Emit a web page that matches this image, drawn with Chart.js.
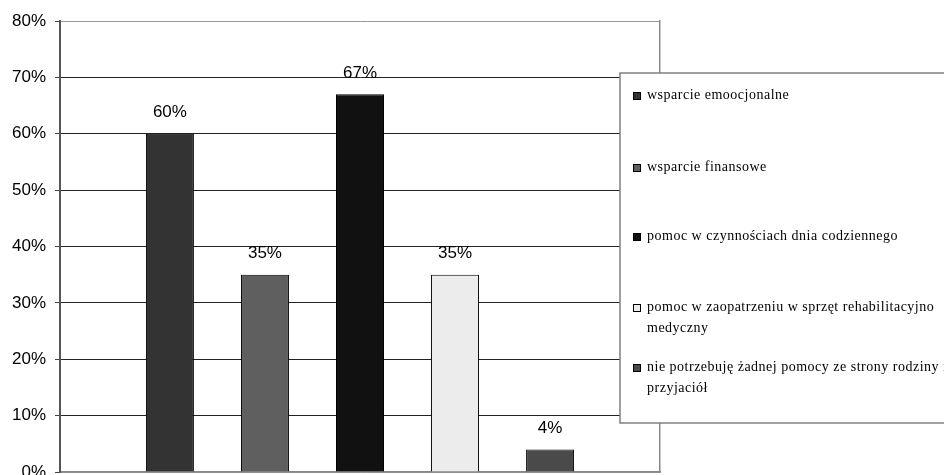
<!DOCTYPE html>
<html lang="pl">
<head>
  <meta charset="utf-8">
  <title>Potrzebna pomoc</title>
  <script type="text/javascript" src="https://cdn.jsdelivr.net/npm/chart.js"></script>
  <style>
    html, body { margin: 0; padding: 0; background: #fff; }
    #wrap { width: 944px; height: 475px; }
  </style>
</head>
<body>
<div id="wrap"><canvas id="c" width="944" height="475"></canvas></div>

<script>
  // data
  const categories = [''];
  const seriesNames = [
    'wsparcie emoocjonalne',
    'wsparcie finansowe',
    'pomoc w czynnościach dnia codziennego',
    'pomoc w zaopatrzeniu w sprzęt rehabilitacyjno medyczny',
    'nie potrzebuję żadnej pomocy ze strony rodziny i przyjaciół'
  ];
  const seriesValues = [60, 35, 67, 35, 4];
  const yTicks = [0, 10, 20, 30, 40, 50, 60, 70, 80];

  const barColors = ['#333333', '#5f5f5f', '#111111', '#ececec', '#4a4a4a'];

  // value labels above the bars
  const valueLabels = {
    id: 'valueLabels',
    afterDatasetsDraw(chart) {
      const ctx = chart.ctx;
      ctx.save();
      ctx.font = '17px "Liberation Sans", Arial, sans-serif';
      ctx.fillStyle = '#000';
      ctx.textAlign = 'center';
      ctx.textBaseline = 'middle';
      chart.data.datasets.forEach((ds, i) => {
        chart.getDatasetMeta(i).data.forEach((bar, j) => {
          ctx.fillText(ds.data[j] + '%', bar.x, bar.y - 21);
        });
      });
      ctx.restore();
    }
  };

  // legend box that sits over the right part of the plot, like the original
  const boxLegend = {
    id: 'boxLegend',
    afterDraw(chart) {
      const ctx = chart.ctx;
      const left = 620, top = 73, bottom = 423;
      const firstLines = [22, 94, 163, 234, 294];
      ctx.save();
      ctx.fillStyle = '#fff';
      ctx.strokeStyle = '#808080';
      ctx.lineWidth = 1.5;
      ctx.fillRect(left, top, chart.width - left + 10, bottom - top);
      ctx.strokeRect(left, top, chart.width - left + 10, bottom - top);

      ctx.font = '14px "Liberation Serif", "Times New Roman", serif';
      ctx.letterSpacing = '0.5px';
      ctx.textBaseline = 'middle';
      const maxW = 320;
      chart.data.datasets.forEach((ds, i) => {
        const y0 = top + firstLines[i];
        ctx.fillStyle = ds.backgroundColor;
        ctx.fillRect(633, y0 - 3, 8, 8);
        ctx.strokeStyle = '#000';
        ctx.lineWidth = 1;
        ctx.strokeRect(633.5, y0 - 2.5, 7, 7);
        // simple word wrap (the box runs past the canvas edge, as in the original)
        const words = ds.label.split(' ');
        const lines = [];
        let cur = '';
        words.forEach(w => {
          const t = cur ? cur + ' ' + w : w;
          if (ctx.measureText(t).width > maxW && cur) { lines.push(cur); cur = w; }
          else cur = t;
        });
        lines.push(cur);
        ctx.fillStyle = '#000';
        lines.forEach((ln, k) => ctx.fillText(ln, 647, y0 + k * 21));
      });
      ctx.restore();
    }
  };

  new Chart(document.getElementById('c').getContext('2d'), {
    type: 'bar',
    data: {
      labels: categories,
      datasets: seriesNames.map((name, i) => ({
        label: name,
        data: [seriesValues[i]],
        backgroundColor: barColors[i],
        borderColor: '#000',
        borderWidth: 1,
        categoryPercentage: 0.792,
        barPercentage: 0.505
      }))
    },
    options: {
      responsive: false,
      animation: false,
      layout: { padding: { top: 21, right: 284, bottom: 3, left: 0 } },
      plugins: {
        legend: { display: false },
        tooltip: { enabled: false }
      },
      scales: {
        x: {
          afterFit(scale) { scale.height = 0; },
          ticks: { display: false },
          grid: { display: false, drawTicks: false },
          border: { color: '#888', width: 1.5 }
        },
        y: {
          min: 0,
          max: 80,
          afterBuildTicks(scale) { scale.ticks = yTicks.map(v => ({ value: v })); },
          afterFit(scale) {
            scale.width = 60;
            scale.paddingTop = 0;
            scale.paddingBottom = 0;
          },
          ticks: {
            callback: v => v + '%',
            color: '#000',
            padding: 9,
            font: { family: '"Liberation Sans", Arial, sans-serif', size: 17 }
          },
          grid: {
            color: ctx => (ctx.tick && (ctx.tick.value === 80 || ctx.tick.value === 0)) ? '#999' : '#222',
            tickColor: '#444',
            tickLength: 5,
            lineWidth: 1
          },
          border: { color: '#555', width: 2 }
        },
        y2: {
          position: 'right',
          min: 0,
          max: 80,
          afterFit(scale) {
            scale.width = 0;
            scale.paddingTop = 0;
            scale.paddingBottom = 0;
          },
          ticks: { display: false },
          grid: { display: false, drawTicks: false },
          border: { color: '#888', width: 1.5 }
        }
      }
    },
    plugins: [valueLabels, boxLegend]
  });
</script>
</body>
</html>
